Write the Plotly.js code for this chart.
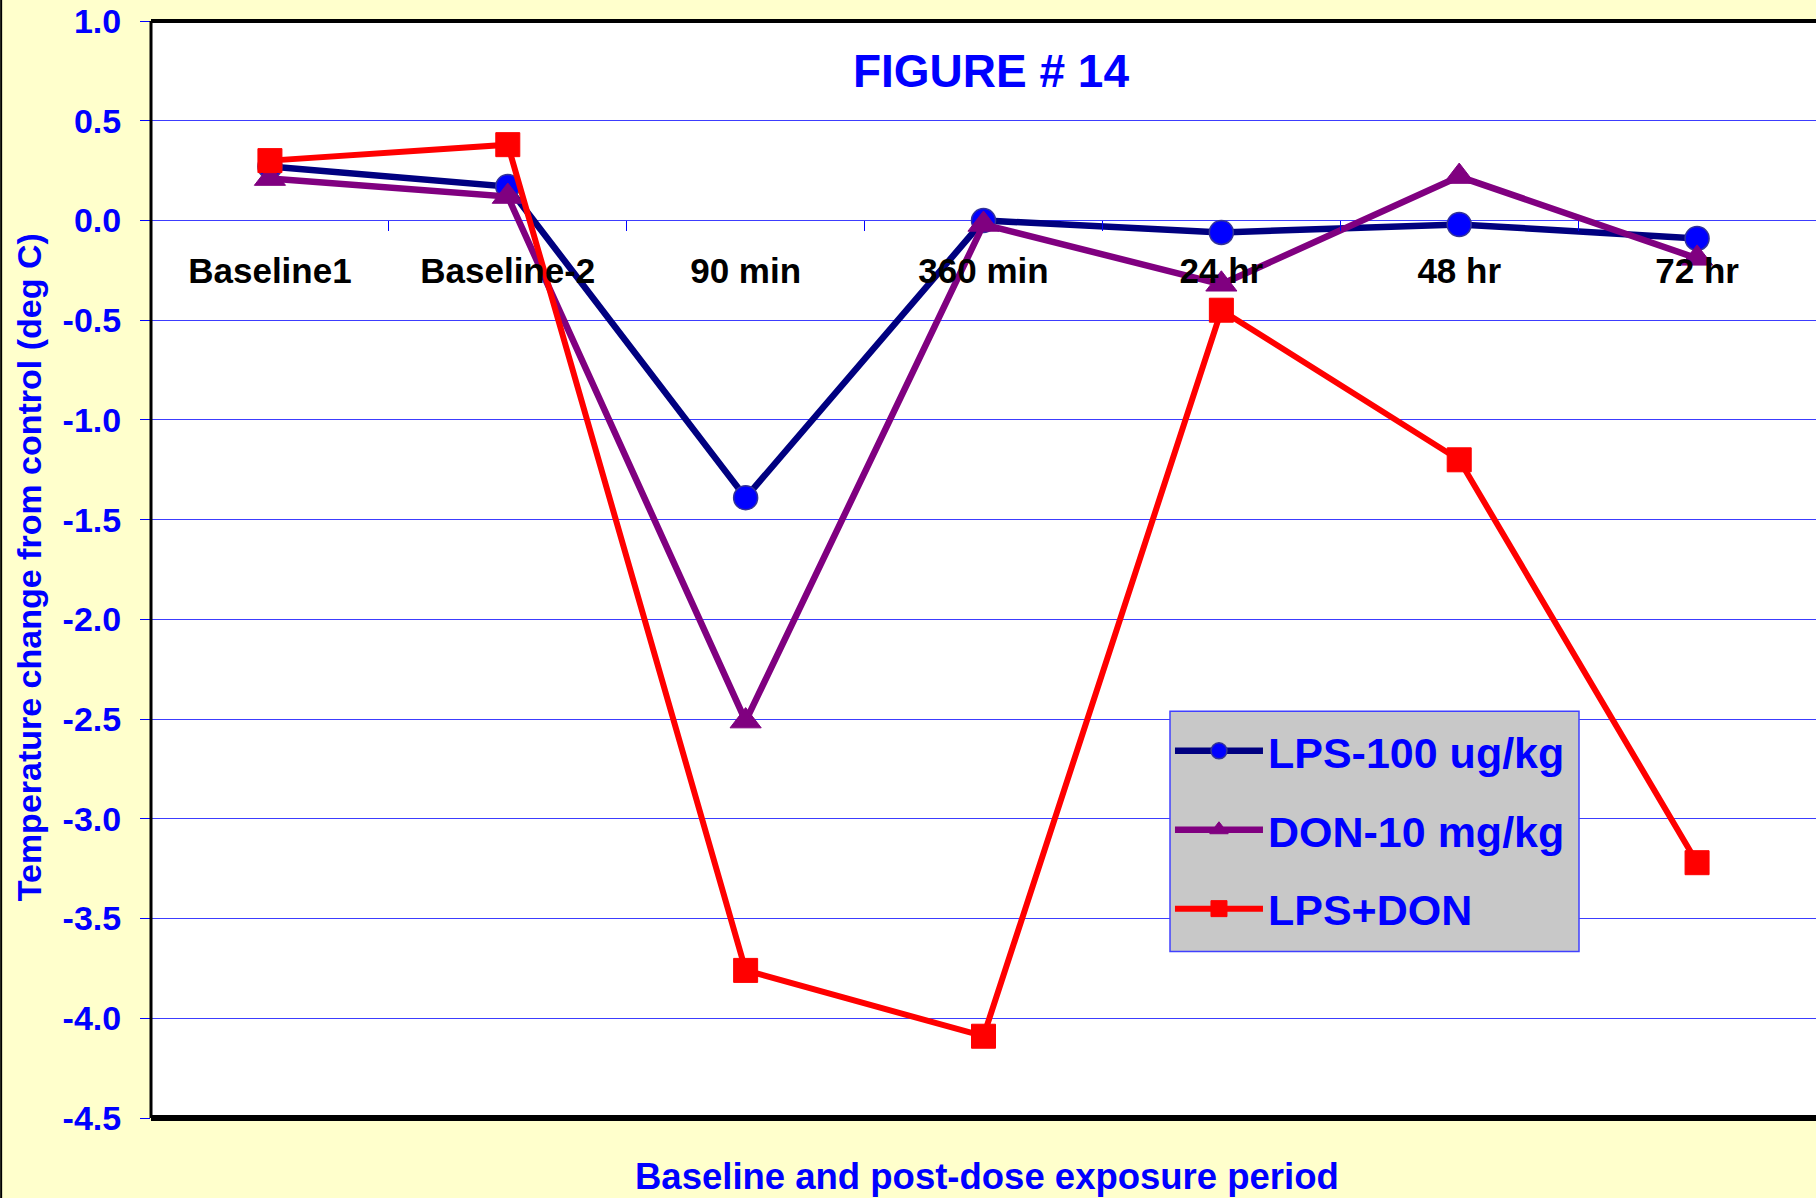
<!DOCTYPE html>
<html>
<head>
<meta charset="utf-8">
<script src="https://cdn.plot.ly/plotly-3.0.1.min.js"></script>
<style>html,body{margin:0;padding:0;background:#FFFFCC;}#chart{width:1816px;height:1198px;}</style>
</head>
<body>
<div id="chart"></div>
<script>
const categories = ["Baseline1", "Baseline-2", "90 min", "360 min", "24 hr", "48 hr", "72 hr"];
const lps100 = [0.27, 0.17, -1.39, 0.00, -0.06, -0.02, -0.09];
const don10 = [0.21, 0.12, -2.51, -0.02, -0.32, 0.22, -0.19];
const lpsDon = [0.30, 0.38, -3.76, -4.09, -0.45, -1.20, -3.22];
const seriesNames = ["LPS-100 ug/kg", "DON-10 mg/kg", "LPS+DON"];
const yTickVals = [1.0, 0.5, 0.0, -0.5, -1.0, -1.5, -2.0, -2.5, -3.0, -3.5, -4.0, -4.5];
const yTickText = yTickVals.map(v => v.toFixed(1));

const FONT = "Liberation Sans, Arial, sans-serif";
const traces = [
  {x: categories, y: lps100, name: seriesNames[0], type: "scatter", mode: "lines+markers", legendgroup: "a",
   line: {color: "#000080", width: 6.5},
   marker: {symbol: "circle", size: 24, color: "#0000FF", line: {color: "#333399", width: 1.5}}},
  {x: categories, y: don10, name: seriesNames[1], type: "scatter", mode: "lines+markers", legendgroup: "b",
   line: {color: "#800080", width: 6.5},
   marker: {symbol: "triangle-up", size: 27, color: "#800080", line: {color: "#800080", width: 1}}},
  {x: categories, y: lpsDon, name: seriesNames[2], type: "scatter", mode: "lines+markers", legendgroup: "c",
   line: {color: "#FF0000", width: 6},
   marker: {symbol: "square", size: 24, color: "#FF0000", line: {color: "#FF0000", width: 1}}}
];

const layout = {
  width: 1816, height: 1198,
  paper_bgcolor: "#FFFFCC", plot_bgcolor: "#FFFFFF",
  margin: {l: 151, r: 0, t: 21, b: 80, pad: 0},
  font: {family: FONT},
  title: {text: "<b>FIGURE # 14</b>", font: {family: FONT, size: 46, color: "#0000FF"},
          xref: "paper", x: 0.5045, xanchor: "center", yref: "container", y: 0.941, yanchor: "middle"},
  xaxis: {type: "category", range: [-0.5, 6.5], anchor: "free", position: 4.5/5.5,
          showgrid: false, zeroline: false, showline: false,
          ticks: "outside", tickson: "boundaries", ticklen: 10, tickwidth: 1, tickcolor: "#0000FF",
          tickfont: {family: FONT, size: 35, color: "#000000", weight: "bold"},
          ticklabelstandoff: 27},
  yaxis: {range: [-4.5, 1.0], tickvals: yTickVals, ticktext: yTickText,
          showgrid: true, gridcolor: "#3C3CFF", gridwidth: 1, zeroline: false,
          showline: false, ticks: "outside", ticklen: 10, tickcolor: "#0000FF",
          tickfont: {family: FONT, size: 34, color: "#0000FF", weight: "bold"},
          ticklabelstandoff: 12},
  showlegend: true,
  legend: {x: 0.612, y: 0.3661, xanchor: "left", yanchor: "top",
           bgcolor: "rgba(0,0,0,0)", borderwidth: 0,
           font: {family: FONT, size: 43, color: "#0000FF", weight: "bold"},
           tracegroupgap: 20, itemwidth: 88},
  annotations: [
    {text: "<b>Temperature change from control (deg C)</b>", textangle: -90, showarrow: false,
     xref: "paper", yref: "paper", x: -0.0733, y: 0.502, xanchor: "center", yanchor: "middle",
     font: {family: FONT, size: 34, color: "#0000FF"}},
    {text: "<b>Baseline and post-dose exposure period</b>", showarrow: false,
     xref: "paper", yref: "paper", x: 0.502, y: -0.0535, xanchor: "center", yanchor: "middle",
     font: {family: FONT, size: 36.5, color: "#0000FF"}}
  ],
  shapes: [
    {type: "rect", xref: "paper", yref: "paper", layer: "above",
     x0: (1170 - 151) / 1665, x1: (1579 - 151) / 1665, y0: (1117.5 - 951) / 1096.5, y1: (1117.5 - 711) / 1096.5,
     fillcolor: "#C8C8C8", line: {color: "#4040FF", width: 1.5}},
    {type: "line", xref: "paper", yref: "paper", x0: 0, x1: 1, y0: 1, y1: 1, line: {color: "#000000", width: 4}},
    {type: "line", xref: "paper", yref: "paper", x0: 0, x1: 1, y0: 0, y1: 0, line: {color: "#000000", width: 6}},
    {type: "line", xref: "paper", yref: "paper", x0: 0, x1: 0, y0: 0, y1: 1, line: {color: "#000000", width: 3}},
    {type: "line", xref: "paper", yref: "paper", x0: -0.0900, x1: -0.0900, y0: -0.075, y1: 1.02, line: {color: "#000000", width: 2}}
  ]
};

Plotly.newPlot("chart", traces, layout, {displayModeBar: false, staticPlot: true});
</script>
</body>
</html>
